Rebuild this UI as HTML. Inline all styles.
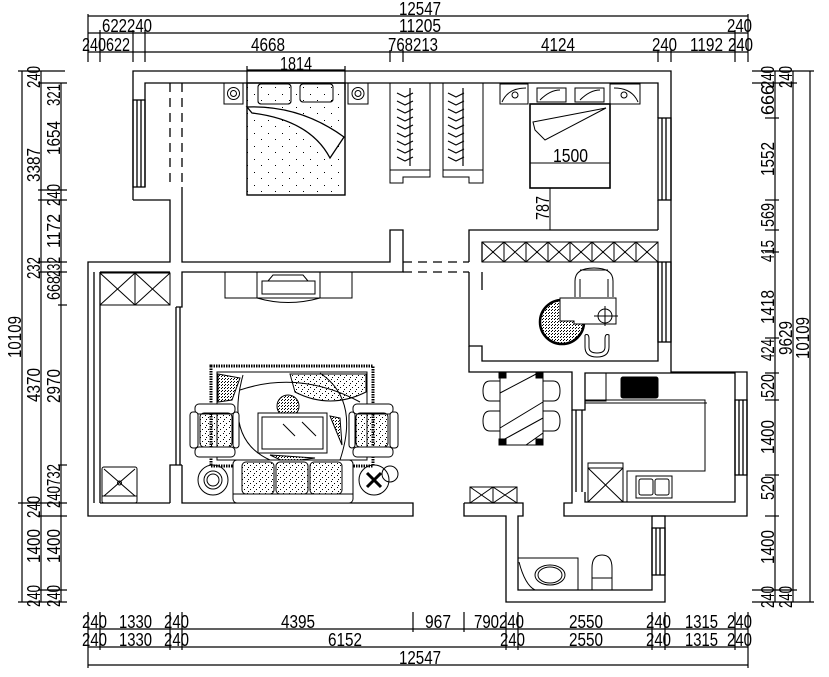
<!DOCTYPE html>
<html><head><meta charset="utf-8"><style>
html,body{margin:0;padding:0;background:#fff}
svg{display:block}
text{font-family:"Liberation Sans",sans-serif;font-size:18px;fill:#000}
</style></head><body>
<svg width="829" height="677" viewBox="0 0 829 677" xmlns="http://www.w3.org/2000/svg">
<defs>
<pattern id="dots" width="6" height="6" patternUnits="userSpaceOnUse">
<rect x="1" y="1" width="1" height="1" fill="#000"/><rect x="4" y="3" width="1" height="1" fill="#000"/><rect x="2" y="5" width="1" height="1" fill="#000"/>
</pattern>
<pattern id="sparse" width="14" height="13" patternUnits="userSpaceOnUse">
<rect x="2" y="3" width="1" height="1" fill="#000"/><rect x="9" y="9" width="1" height="1" fill="#000"/>
</pattern>
<pattern id="dense" width="3" height="3" patternUnits="userSpaceOnUse">
<rect x="0" y="0" width="1" height="1" fill="#000"/><rect x="2" y="1" width="1" height="1" fill="#000"/>
</pattern>
</defs>
<g fill="none" stroke="#000" stroke-width="1.2">
<line x1="88" y1="16" x2="748" y2="16"/>
<line x1="88" y1="33" x2="748" y2="33"/>
<line x1="88" y1="52" x2="748" y2="52"/>
<line x1="88" y1="14" x2="88" y2="62"/><line x1="748" y1="14" x2="748" y2="62"/>
<line x1="100" y1="30" x2="100" y2="62"/><line x1="133" y1="30" x2="133" y2="62"/><line x1="145" y1="30" x2="145" y2="62"/>
<line x1="390" y1="50" x2="390" y2="62"/><line x1="403" y1="50" x2="403" y2="62"/>
<line x1="658" y1="50" x2="658" y2="62"/><line x1="671" y1="50" x2="671" y2="62"/><line x1="735" y1="30" x2="735" y2="62"/>
<line x1="247" y1="70" x2="345" y2="70"/><line x1="247" y1="66" x2="247" y2="90"/><line x1="345" y1="66" x2="345" y2="90"/>
<line x1="22" y1="71" x2="22" y2="602"/><line x1="41" y1="71" x2="41" y2="602"/><line x1="61" y1="83" x2="61" y2="602"/>
<line x1="18" y1="71" x2="65" y2="71"/><line x1="38" y1="83" x2="67" y2="83"/>
<line x1="38" y1="190" x2="67" y2="190"/><line x1="38" y1="200" x2="67" y2="200"/>
<line x1="38" y1="262" x2="67" y2="262"/><line x1="38" y1="272" x2="67" y2="272"/>
<line x1="58" y1="305" x2="67" y2="305"/><line x1="58" y1="465" x2="67" y2="465"/>
<line x1="18" y1="503" x2="67" y2="503"/><line x1="38" y1="516" x2="67" y2="516"/>
<line x1="38" y1="590" x2="67" y2="590"/><line x1="18" y1="602" x2="67" y2="602"/>
<line x1="775" y1="71" x2="775" y2="602"/><line x1="793" y1="71" x2="793" y2="602"/><line x1="810" y1="71" x2="810" y2="602"/>
<line x1="752" y1="71" x2="814" y2="71"/><line x1="752" y1="83" x2="797" y2="83"/>
<line x1="765" y1="118" x2="779" y2="118"/><line x1="765" y1="200" x2="779" y2="200"/><line x1="765" y1="230" x2="779" y2="230"/>
<line x1="765" y1="252" x2="779" y2="252"/><line x1="765" y1="338" x2="779" y2="338"/><line x1="765" y1="373" x2="779" y2="373"/>
<line x1="765" y1="400" x2="779" y2="400"/><line x1="765" y1="475" x2="779" y2="475"/><line x1="765" y1="516" x2="779" y2="516"/>
<line x1="752" y1="590" x2="797" y2="590"/><line x1="752" y1="602" x2="814" y2="602"/>
<line x1="88" y1="629" x2="748" y2="629"/><line x1="88" y1="647" x2="748" y2="647"/><line x1="88" y1="665" x2="748" y2="665"/>
<line x1="88" y1="612" x2="88" y2="668"/><line x1="748" y1="612" x2="748" y2="668"/>
<line x1="100" y1="612" x2="100" y2="650"/><line x1="170" y1="612" x2="170" y2="650"/><line x1="182" y1="612" x2="182" y2="650"/>
<line x1="413" y1="612" x2="413" y2="632"/><line x1="464" y1="612" x2="464" y2="632"/>
<line x1="506" y1="612" x2="506" y2="650"/><line x1="518" y1="612" x2="518" y2="650"/>
<line x1="652" y1="612" x2="652" y2="650"/><line x1="665" y1="612" x2="665" y2="650"/><line x1="735" y1="612" x2="735" y2="650"/>
</g>
<g>
<text x="420" y="15" text-anchor="middle" textLength="42" lengthAdjust="spacingAndGlyphs">12547</text>
<text x="102" y="32" textLength="50" lengthAdjust="spacingAndGlyphs">622240</text>
<text x="420" y="32" text-anchor="middle" textLength="42" lengthAdjust="spacingAndGlyphs">11205</text>
<text x="727" y="32" textLength="25" lengthAdjust="spacingAndGlyphs">240</text>
<text x="82" y="51" textLength="48" lengthAdjust="spacingAndGlyphs">240622</text>
<text x="268" y="51" text-anchor="middle" textLength="34" lengthAdjust="spacingAndGlyphs">4668</text>
<text x="388" y="51" textLength="50" lengthAdjust="spacingAndGlyphs">768213</text>
<text x="558" y="51" text-anchor="middle" textLength="34" lengthAdjust="spacingAndGlyphs">4124</text>
<text x="652" y="51" textLength="25" lengthAdjust="spacingAndGlyphs">240</text>
<text x="690" y="51" textLength="33" lengthAdjust="spacingAndGlyphs">1192</text>
<text x="728" y="51" textLength="25" lengthAdjust="spacingAndGlyphs">240</text>
<text x="296" y="70" text-anchor="middle" textLength="32" lengthAdjust="spacingAndGlyphs">1814</text>
<text x="553" y="162" textLength="35" lengthAdjust="spacingAndGlyphs">1500</text>
<text transform="translate(549,208) rotate(-90)" text-anchor="middle" textLength="24" lengthAdjust="spacingAndGlyphs">787</text>
<g text-anchor="middle">
<text transform="translate(21,337) rotate(-90)" textLength="42" lengthAdjust="spacingAndGlyphs">10109</text>
<text transform="translate(40,77) rotate(-90)" textLength="22" lengthAdjust="spacingAndGlyphs">240</text>
<text transform="translate(40,165) rotate(-90)" textLength="34" lengthAdjust="spacingAndGlyphs">3387</text>
<text transform="translate(40,268) rotate(-90)" textLength="22" lengthAdjust="spacingAndGlyphs">232</text>
<text transform="translate(40,385) rotate(-90)" textLength="34" lengthAdjust="spacingAndGlyphs">4370</text>
<text transform="translate(40,507) rotate(-90)" textLength="22" lengthAdjust="spacingAndGlyphs">240</text>
<text transform="translate(40,546) rotate(-90)" textLength="34" lengthAdjust="spacingAndGlyphs">1400</text>
<text transform="translate(40,596) rotate(-90)" textLength="22" lengthAdjust="spacingAndGlyphs">240</text>
<text transform="translate(60,95) rotate(-90)" textLength="22" lengthAdjust="spacingAndGlyphs">321</text>
<text transform="translate(60,138) rotate(-90)" textLength="34" lengthAdjust="spacingAndGlyphs">1654</text>
<text transform="translate(60,195) rotate(-90)" textLength="22" lengthAdjust="spacingAndGlyphs">240</text>
<text transform="translate(60,231) rotate(-90)" textLength="34" lengthAdjust="spacingAndGlyphs">1172</text>
<text transform="translate(60,267) rotate(-90)" textLength="20" lengthAdjust="spacingAndGlyphs">232</text>
<text transform="translate(60,288) rotate(-90)" textLength="24" lengthAdjust="spacingAndGlyphs">668</text>
<text transform="translate(60,386) rotate(-90)" textLength="34" lengthAdjust="spacingAndGlyphs">2970</text>
<text transform="translate(60,486) rotate(-90)" textLength="44" lengthAdjust="spacingAndGlyphs">240732</text>
<text transform="translate(60,546) rotate(-90)" textLength="34" lengthAdjust="spacingAndGlyphs">1400</text>
<text transform="translate(60,596) rotate(-90)" textLength="22" lengthAdjust="spacingAndGlyphs">240</text>
<text transform="translate(774,77) rotate(-90)" textLength="22" lengthAdjust="spacingAndGlyphs">240</text>
<text transform="translate(774,100) rotate(-90)" textLength="30" lengthAdjust="spacingAndGlyphs">666</text>
<text transform="translate(774,159) rotate(-90)" textLength="34" lengthAdjust="spacingAndGlyphs">1552</text>
<text transform="translate(774,215) rotate(-90)" textLength="24" lengthAdjust="spacingAndGlyphs">569</text>
<text transform="translate(774,251) rotate(-90)" textLength="22" lengthAdjust="spacingAndGlyphs">415</text>
<text transform="translate(774,307) rotate(-90)" textLength="34" lengthAdjust="spacingAndGlyphs">1418</text>
<text transform="translate(774,350) rotate(-90)" textLength="22" lengthAdjust="spacingAndGlyphs">424</text>
<text transform="translate(774,386) rotate(-90)" textLength="24" lengthAdjust="spacingAndGlyphs">520</text>
<text transform="translate(774,437) rotate(-90)" textLength="34" lengthAdjust="spacingAndGlyphs">1400</text>
<text transform="translate(774,488) rotate(-90)" textLength="24" lengthAdjust="spacingAndGlyphs">520</text>
<text transform="translate(774,547) rotate(-90)" textLength="34" lengthAdjust="spacingAndGlyphs">1400</text>
<text transform="translate(774,597) rotate(-90)" textLength="22" lengthAdjust="spacingAndGlyphs">240</text>
<text transform="translate(792,77) rotate(-90)" textLength="22" lengthAdjust="spacingAndGlyphs">240</text>
<text transform="translate(792,338) rotate(-90)" textLength="34" lengthAdjust="spacingAndGlyphs">9629</text>
<text transform="translate(792,597) rotate(-90)" textLength="22" lengthAdjust="spacingAndGlyphs">240</text>
<text transform="translate(809,338) rotate(-90)" textLength="42" lengthAdjust="spacingAndGlyphs">10109</text>
</g>
<text x="82" y="628" textLength="25" lengthAdjust="spacingAndGlyphs">240</text>
<text x="119" y="628" textLength="33" lengthAdjust="spacingAndGlyphs">1330</text>
<text x="164" y="628" textLength="25" lengthAdjust="spacingAndGlyphs">240</text>
<text x="298" y="628" text-anchor="middle" textLength="34" lengthAdjust="spacingAndGlyphs">4395</text>
<text x="425" y="628" textLength="26" lengthAdjust="spacingAndGlyphs">967</text>
<text x="474" y="628" textLength="50" lengthAdjust="spacingAndGlyphs">790240</text>
<text x="586" y="628" text-anchor="middle" textLength="34" lengthAdjust="spacingAndGlyphs">2550</text>
<text x="646" y="628" textLength="25" lengthAdjust="spacingAndGlyphs">240</text>
<text x="685" y="628" textLength="33" lengthAdjust="spacingAndGlyphs">1315</text>
<text x="727" y="628" textLength="25" lengthAdjust="spacingAndGlyphs">240</text>
<text x="82" y="646" textLength="25" lengthAdjust="spacingAndGlyphs">240</text>
<text x="119" y="646" textLength="33" lengthAdjust="spacingAndGlyphs">1330</text>
<text x="164" y="646" textLength="25" lengthAdjust="spacingAndGlyphs">240</text>
<text x="345" y="646" text-anchor="middle" textLength="34" lengthAdjust="spacingAndGlyphs">6152</text>
<text x="500" y="646" textLength="25" lengthAdjust="spacingAndGlyphs">240</text>
<text x="586" y="646" text-anchor="middle" textLength="34" lengthAdjust="spacingAndGlyphs">2550</text>
<text x="646" y="646" textLength="25" lengthAdjust="spacingAndGlyphs">240</text>
<text x="685" y="646" textLength="33" lengthAdjust="spacingAndGlyphs">1315</text>
<text x="727" y="646" textLength="25" lengthAdjust="spacingAndGlyphs">240</text>
<text x="420" y="664" text-anchor="middle" textLength="42" lengthAdjust="spacingAndGlyphs">12547</text>
</g>

<g fill="none" stroke="#000" stroke-width="1.3">
<polyline points="133,200 133,71 671,71 671,230"/>
<polyline points="145,187 145,83 658,83 658,118"/>
<line x1="658" y1="200" x2="658" y2="230"/>
<polyline points="133,200 170,200 170,262 88,262 88,516 413,516 413,503 182,503 182,465"/>
<polyline points="182,187 182,262 390,262 390,230 403,230 403,272 182,272 182,307 176,307"/>
<polyline points="100,272 170,272"/><line x1="100" y1="272" x2="100" y2="503"/>
<line x1="94" y1="272" x2="94" y2="503"/>
<line x1="100" y1="503" x2="170" y2="503"/>
<polyline points="170,503 170,465 182,465"/>
<line x1="176" y1="307" x2="176" y2="465"/><line x1="180" y1="307" x2="180" y2="465"/>
<rect x="133" y="100" width="12" height="87"/><line x1="137" y1="100" x2="137" y2="187"/><line x1="141" y1="100" x2="141" y2="187"/>
<line x1="170" y1="83" x2="170" y2="187" stroke-dasharray="9,6"/><line x1="182" y1="83" x2="182" y2="187" stroke-dasharray="9,6"/>
<line x1="403" y1="262" x2="469" y2="262" stroke-dasharray="9,6"/><line x1="403" y1="272" x2="469" y2="272" stroke-dasharray="9,6"/>
<rect x="658" y="118" width="13" height="82"/><line x1="662" y1="118" x2="662" y2="200"/><line x1="666" y1="118" x2="666" y2="200"/>
<polyline points="469,262 469,230 658,230"/>
<polyline points="482,262 482,242"/>
<polyline points="469,272 469,346 482,346 482,361 658,361 658,262"/>
<polyline points="671,230 671,372 747,372 747,516 564,516 564,503 572,503 572,492"/>
<line x1="482" y1="272" x2="482" y2="290"/>
<rect x="658" y="262" width="13" height="80"/><line x1="662" y1="262" x2="662" y2="342"/><line x1="666" y1="262" x2="666" y2="342"/>
<polyline points="469,346 469,372 572,372 572,410 585,410 585,373 735,373 735,502 585,502 585,492"/>
<line x1="572" y1="410" x2="572" y2="492"/><line x1="576" y1="410" x2="576" y2="492"/><line x1="582" y1="410" x2="582" y2="492"/>
<rect x="735" y="400" width="12" height="75"/><line x1="739" y1="400" x2="739" y2="475"/><line x1="743" y1="400" x2="743" y2="475"/>
<polyline points="464,503 523,503 523,516 518,516 518,590 652,590 652,516 665,516 665,602 506,602 506,516 464,516 464,503"/>
<rect x="652" y="528" width="13" height="47"/><line x1="656" y1="528" x2="656" y2="575"/><line x1="660" y1="528" x2="660" y2="575"/>
</g>

<g fill="none" stroke="#000" stroke-width="1">
<rect x="224" y="83" width="19" height="21"/><circle cx="233.5" cy="93.5" r="6"/><circle cx="233.5" cy="93.5" r="3"/>
<rect x="348" y="83" width="20" height="21"/><circle cx="358" cy="93.5" r="6"/><circle cx="358" cy="93.5" r="3"/>
<rect x="247" y="83" width="98" height="112" stroke-width="1.4" fill="url(#sparse)"/>
<rect x="258" y="84" width="33" height="20" rx="3" fill="#fff"/><rect x="258" y="84" width="33" height="20" rx="3" fill="url(#sparse)"/>
<rect x="300" y="84" width="33" height="18" rx="3" fill="#fff"/><rect x="300" y="84" width="33" height="18" rx="3" fill="url(#sparse)"/>
<path d="M247,107 Q300,105 344,137 L330,158 Q310,120 252,113 Z" fill="#fff" stroke-width="1.3"/>
<rect x="390" y="83" width="40" height="87"/><rect x="443" y="83" width="40" height="87"/>
<polyline points="390,170 390,183 403,183 403,177 430,177 430,170"/>
<polyline points="443,170 443,177 469,177 469,183 483,183 483,170"/>
<g stroke-width="1.2">
<path d="M397,93 l8,4 l8,-4 M397,101 l8,4 l8,-4 M397,109 l8,4 l8,-4 M397,117 l8,4 l8,-4 M397,125 l8,4 l8,-4 M397,133 l8,4 l8,-4 M397,141 l8,4 l8,-4 M397,149 l8,4 l8,-4 M397,157 l8,4 l8,-4"/>
<path d="M448,93 l8,4 l8,-4 M448,101 l8,4 l8,-4 M448,109 l8,4 l8,-4 M448,117 l8,4 l8,-4 M448,125 l8,4 l8,-4 M448,133 l8,4 l8,-4 M448,141 l8,4 l8,-4 M448,149 l8,4 l8,-4 M448,157 l8,4 l8,-4"/>
<line x1="410" y1="88" x2="410" y2="166"/><line x1="463" y1="88" x2="463" y2="166"/>
</g>
<path d="M500,84 h28 v20 h-28 Z M502,102 Q508,88 526,88"/><circle cx="515" cy="95" r="3"/>
<path d="M610,84 h30 v20 h-30 Z M638,102 Q632,88 614,88"/><circle cx="624" cy="95" r="3"/>
<rect x="537" y="88" width="29" height="14"/><rect x="575" y="88" width="29" height="14"/>
<path d="M540,100 q10,-10 20,-10 M580,100 q10,-10 20,-10"/>
<rect x="530" y="104" width="80" height="84" stroke-width="1.6"/><line x1="530" y1="163" x2="610" y2="163"/>
<polygon points="533,122 606,108 545,140 535,130"/>
<line x1="550" y1="188" x2="550" y2="230"/>
<rect x="482" y="242" width="176" height="20"/>
<path d="M482,242 l22,20 M504,242 l-22,20 M504,242 l22,20 M526,242 l-22,20 M526,242 l22,20 M548,242 l-22,20 M548,242 l22,20 M570,242 l-22,20 M570,242 l22,20 M592,242 l-22,20 M592,242 l22,20 M614,242 l-22,20 M614,242 l22,20 M636,242 l-22,20 M636,242 l22,20 M658,242 l-22,20"/>
<line x1="504" y1="242" x2="504" y2="262"/><line x1="526" y1="242" x2="526" y2="262"/><line x1="548" y1="242" x2="548" y2="262"/><line x1="570" y1="242" x2="570" y2="262"/><line x1="592" y1="242" x2="592" y2="262"/><line x1="614" y1="242" x2="614" y2="262"/><line x1="636" y1="242" x2="636" y2="262"/>
<path d="M575,297 v-16 q0,-13 19,-13 q19,0 19,13 v16 M580,297 v-18 M608,297 v-18 M580,270 h28"/>
<circle cx="562" cy="322" r="22" fill="url(#dense)" stroke-width="2.5"/>
<path d="M560,298 h56 v26 h-42 v-3 h-14 Z" fill="#fff"/>
<circle cx="605" cy="316" r="7"/><line x1="594" y1="316" x2="618" y2="316"/><line x1="605" y1="306" x2="605" y2="326"/>
<path d="M585,335 v12 q0,10 12,10 q12,0 12,-10 v-12 q-4,-2 -4,4 v8 q0,6 -8,6 q-8,0 -8,-6 v-8 q0,-6 -4,-4"/>
<rect x="100" y="273" width="70" height="32"/><line x1="135" y1="273" x2="135" y2="305"/>
<path d="M100,273 L135,305 M135,273 L100,305 M135,273 L170,305 M170,273 L135,305"/>
<rect x="102" y="467" width="35" height="36" rx="2"/><path d="M104,469 L135,496 M135,469 L104,496"/><circle cx="119.5" cy="483" r="2"/><line x1="102" y1="496" x2="137" y2="496"/>
<rect x="225" y="272" width="127" height="26"/><line x1="257" y1="272" x2="257" y2="298"/><line x1="320" y1="272" x2="320" y2="298"/>
<path d="M257,298 Q288,307 320,298"/><rect x="262" y="281" width="53" height="13"/><path d="M268,281 l5,-6 h30 l5,6"/>
<rect x="211" y="366" width="162" height="100" stroke-width="3" stroke-dasharray="1.5,1"/>
<rect x="217" y="372" width="150" height="88"/>
<path d="M218,374 L240,378 L232,400 L218,402 Z" fill="url(#dense)"/>
<path d="M290,374 L366,374 L366,392 Q330,410 295,392 Z" fill="url(#dots)"/>
<path d="M243,375 Q225,440 270,460 M240,390 Q300,370 360,402 M320,373 Q360,400 340,460" />
<circle cx="288" cy="406" r="11" fill="url(#dense)"/>
<rect x="258" y="413" width="69" height="40" fill="#fff"/><rect x="262" y="417" width="61" height="32"/>
<path d="M283,424 l12,12 M302,422 l14,14"/>
<path d="M330,416 L340,418 L342,445 Z" fill="url(#dense)"/>
<path d="M270,455 L315,458 L285,462 Z" fill="url(#dense)"/>
<g>
<rect x="195" y="404" width="40" height="10" rx="4" fill="#fff"/><rect x="195" y="447" width="40" height="10" rx="4" fill="#fff"/>
<rect x="190" y="412" width="8" height="36" rx="3" fill="#fff"/><rect x="233" y="412" width="6" height="36" rx="3" fill="#fff"/>
<rect x="200" y="413" width="32" height="34" rx="4" fill="url(#dots)"/>
<rect x="353" y="404" width="40" height="10" rx="4" fill="#fff"/><rect x="353" y="447" width="40" height="10" rx="4" fill="#fff"/>
<rect x="349" y="412" width="6" height="36" rx="3" fill="#fff"/><rect x="390" y="412" width="8" height="36" rx="3" fill="#fff"/>
<rect x="356" y="413" width="32" height="34" rx="4" fill="url(#dots)"/>
</g>
<rect x="233" y="460" width="120" height="43" rx="4" fill="#fff"/>
<rect x="242" y="462" width="32" height="32" rx="4" fill="url(#dots)"/>
<rect x="276" y="462" width="32" height="32" rx="4" fill="url(#dots)"/>
<rect x="310" y="462" width="32" height="32" rx="4" fill="url(#dots)"/>
<line x1="233" y1="494" x2="353" y2="494"/>
<circle cx="213" cy="480" r="15"/><circle cx="213" cy="480" r="9"/><circle cx="213" cy="480" r="6"/>
<circle cx="374" cy="480" r="15"/><path d="M367,473 l14,14 M381,473 l-14,14" stroke-width="3"/><circle cx="390" cy="474" r="8"/>
<rect x="500" y="372" width="43" height="73"/>
<rect x="499" y="372" width="7" height="6" fill="#000"/><rect x="536" y="372" width="7" height="6" fill="#000"/>
<rect x="499" y="439" width="7" height="6" fill="#000"/><rect x="536" y="439" width="7" height="6" fill="#000"/>
<path d="M500,393 L540,372 M500,428 L543,402 M503,440 L543,418 M526,445 L543,433"/>
<path d="M500,381 h-10 q-7,0 -7,10 q0,10 7,10 h10 M500,411 h-10 q-7,0 -7,10 q0,10 7,10 h10"/>
<path d="M543,381 h10 q7,0 7,10 q0,10 -7,10 h-10 M543,411 h10 q7,0 7,10 q0,10 -7,10 h-10"/>
<rect x="585" y="373" width="21" height="28"/>
<rect x="621" y="377" width="37" height="21" rx="2" fill="#000"/>
<polyline points="585,400 705,400 705,471 627,471 627,502"/><polyline points="585,403 707,403"/>
<rect x="588" y="463" width="35" height="39"/><path d="M588,468 L623,502 M623,468 L588,502"/><line x1="588" y1="468" x2="623" y2="468"/>
<rect x="636" y="476" width="36" height="22"/><rect x="639" y="479" width="14" height="16" rx="2"/><rect x="655" y="479" width="14" height="16" rx="2"/>
<rect x="470" y="487" width="47" height="16"/><line x1="493" y1="487" x2="493" y2="503"/>
<path d="M470,487 L493,503 M493,487 L470,503 M493,487 L517,503 M517,487 L493,503"/>
<rect x="518" y="558" width="60" height="32"/><path d="M519,562 Q525,585 535,590"/>
<ellipse cx="550" cy="575" rx="15" ry="10"/><ellipse cx="550" cy="575" rx="12" ry="8"/>
<path d="M592,590 v-22 q0,-13 10,-13 q10,0 10,13 v22 Z"/><line x1="592" y1="578" x2="612" y2="578"/>
</g>
</svg>
</body></html>
